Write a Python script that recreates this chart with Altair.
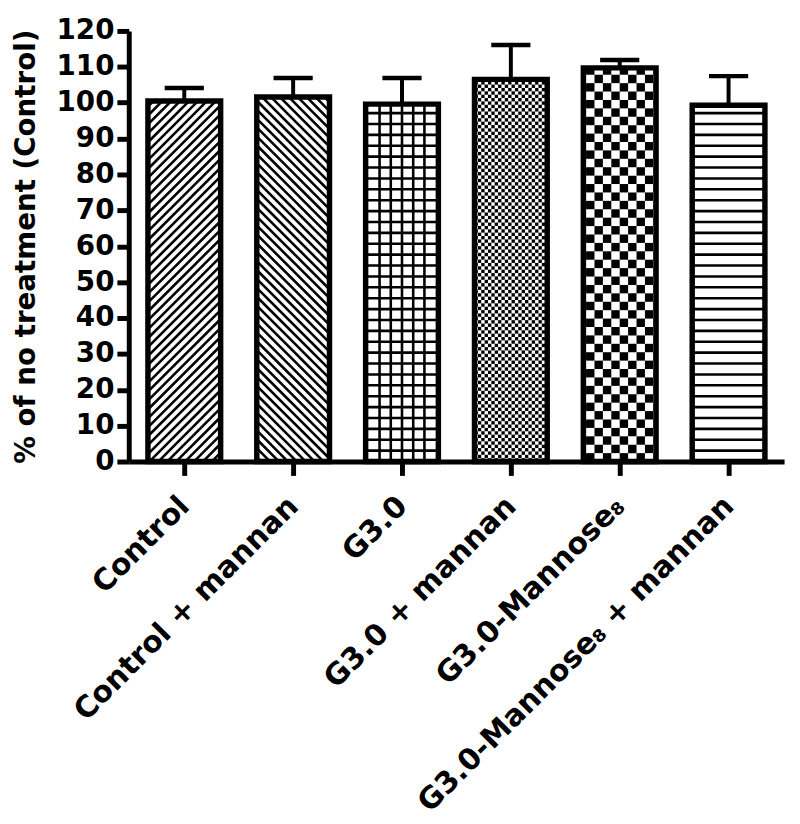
import json
import math
import altair as alt
import numpy as np
import pandas as pd

# ---- data ----
categories = ["Control", "Control + mannan", "G3.0", "G3.0 + mannan",
              "G3.0-Mannose₈", "G3.0-Mannose₈ + mannan"]
means = [100.5, 101.6, 99.6, 106.5, 109.7, 99.3]
sems = [3.6, 5.3, 7.3, 9.6, 2.2, 8.1]
patterns = ["diag_up", "diag_down", "grid", "fine_check", "coarse_check", "hlines"]
y_ticks = [0, 10, 20, 30, 40, 50, 60, 70, 80, 90, 100, 110, 120]

# ---- geometry ----
W_PLOT, H_PLOT = 662, 435
X_DOM = [-0.51, 5.51]
Y_DOM = [0, 120]
SX = W_PLOT / (X_DOM[1] - X_DOM[0])
SY = H_PLOT / (Y_DOM[1] - Y_DOM[0])
HALF = 0.334
BORDER = 5.5

bars = pd.DataFrame({
    "cat": categories,
    "pos": list(range(len(categories))),
    "mean": means,
    "sem": sems,
})
bars["x0"] = bars["pos"] - HALF
bars["x1"] = bars["pos"] + HALF
bars["top"] = bars["mean"] + bars["sem"]
bars["c0"] = bars["pos"] - 0.18
bars["c1"] = bars["pos"] + 0.18
bars["zero"] = 0.0

# ---- hatch fills (built from the bars, in pixel units then mapped to data) ----
lines, rects = [], []
for i, (m, pat) in enumerate(zip(means, patterns)):
    W = 2 * HALF * SX
    H = m * SY
    xl = i - HALF

    def L(px0, py0, px1, py1):
        lines.append({"x": xl + px0 / SX, "y": py0 / SY, "x2": xl + px1 / SX, "y2": py1 / SY})

    def R(px0, py0, px1, py1):
        rects.append({"x": xl + px0 / SX, "y": py0 / SY, "x2": xl + px1 / SX, "y2": py1 / SY})

    if pat == "diag_up":
        d = 9.0
        c = -W
        while c < H:
            p0, p1 = max(0, -c), min(W, H - c)
            if p1 > p0:
                L(p0, p0 + c, p1, p1 + c)
            c += d
    elif pat == "diag_down":
        d = 9.0
        c = d / 2
        while c < W + H:
            p0, p1 = max(0, c - H), min(W, c)
            if p1 > p0:
                L(p0, c - p0, p1, c - p1)
            c += d
    elif pat == "grid":
        cw = (W - BORDER) / 6
        for k in range(1, 6):
            px = BORDER / 2 + k * cw
            L(px, 0, px, H)
        py = 11.0
        while py < H:
            L(0, py, W, py)
            py += 11.0
    elif pat == "fine_check":
        cell = 3.4
        ncol = int(math.ceil(W / cell))
        nrow = int(math.ceil(H / cell))
        for r in range(nrow):
            for cc in range(ncol):
                if (r + cc) % 2 == 0:
                    R(cc * cell, r * cell, min(W, (cc + 1) * cell), min(H, (r + 1) * cell))
    elif pat == "coarse_check":
        cell = (W - BORDER) / 8
        nrow = int(math.ceil(H / cell))
        for r in range(nrow):
            for cc in range(-1, 9):
                if (r + cc) % 2 == 0:
                    a = max(0, BORDER / 2 + cc * cell)
                    b = min(W, BORDER / 2 + (cc + 1) * cell)
                    if b > a:
                        R(a, r * cell, b, min(H, (r + 1) * cell))
    elif pat == "hlines":
        py = 11.0
        while py < H:
            L(0, py, W, py)
            py += 11.0

lines_df = pd.DataFrame(lines)
rects_df = pd.DataFrame(rects)

FONT = "DejaVu Sans"
label_expr = json.dumps(categories, ensure_ascii=False) + "[datum.value]"

xscale = alt.Scale(domain=X_DOM, nice=False, zero=False)
yscale = alt.Scale(domain=Y_DOM, nice=False, zero=False)

x_axis = alt.Axis(values=list(range(len(categories))), labelExpr=label_expr,
                  labelAngle=-45, labelAlign="right", labelBaseline="middle",
                  labelFlush=False, labelOverlap=False, labelLimit=0,
                  labelPadding=26, tickSize=14, title=None,
                  labelFontSize=30, grid=False)
y_axis = alt.Axis(values=y_ticks, tickCount=13, tickSize=12, labelPadding=3, labelFontSize=28,
                  labelOverlap=False, labelFlush=False,
                  title="% of no treatment (Control)", titleFontSize=28,
                  titlePadding=16, grid=False)


def enc(xf, x2f, yf, y2f=None):
    e = dict(x=alt.X(xf, scale=xscale, axis=x_axis),
             y=alt.Y(yf, scale=yscale, axis=y_axis))
    if x2f:
        e["x2"] = x2f
    if y2f:
        e["y2"] = y2f
    return e


base_fill = alt.Chart(bars).mark_rect(fill="white", stroke=None).encode(
    **enc("x0:Q", "x1:Q", "zero:Q", "mean:Q"))

hatch_rects = alt.Chart(rects_df).mark_rect(fill="black", stroke=None).encode(
    **enc("x:Q", "x2:Q", "y:Q", "y2:Q"))

hatch_lines = alt.Chart(lines_df).mark_rule(color="black", strokeWidth=2.6, strokeCap="butt").encode(
    **enc("x:Q", "x2:Q", "y:Q", "y2:Q"))

border = alt.Chart(bars).mark_rect(fillOpacity=0, fill="white", stroke="black",
                                   strokeWidth=BORDER, strokeJoin="miter").encode(
    **enc("x0:Q", "x1:Q", "zero:Q", "mean:Q"))

err_stem = alt.Chart(bars).mark_rule(color="black", strokeWidth=4).encode(
    **enc("pos:Q", None, "mean:Q", "top:Q"))

err_cap = alt.Chart(bars).mark_rule(color="black", strokeWidth=4.5).encode(
    **enc("c0:Q", "c1:Q", "top:Q"))

chart = alt.layer(base_fill, hatch_rects, hatch_lines, border, err_stem, err_cap).properties(
    width=W_PLOT, height=H_PLOT,
    autosize=alt.AutoSizeParams(type="none"),
    padding={"left": 122, "top": 19, "right": 8, "bottom": 362},
).configure_view(stroke=None).configure_axis(
    domainColor="black", domainWidth=5, tickColor="black", tickWidth=5,
    labelFont=FONT, labelFontWeight="bold", labelColor="black",
    titleFont=FONT, titleFontWeight="bold", titleColor="black",
)

chart.save("out.html", embed_options={"renderer": "svg", "actions": False})
